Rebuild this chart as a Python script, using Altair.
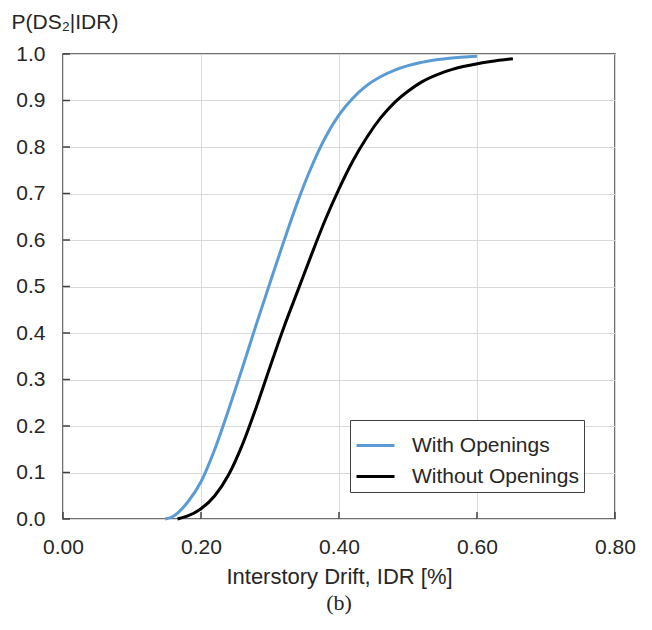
import altair as alt
import pandas as pd

with_x = [0.148, 0.160, 0.180, 0.200, 0.220, 0.240, 0.260, 0.280, 0.300, 0.320, 0.340, 0.360, 0.380, 0.400, 0.420, 0.440, 0.460, 0.480, 0.500, 0.530, 0.560, 0.600]
with_y = [0.000, 0.006, 0.035, 0.080, 0.150, 0.235, 0.325, 0.418, 0.508, 0.597, 0.682, 0.757, 0.820, 0.869, 0.905, 0.932, 0.951, 0.965, 0.975, 0.985, 0.991, 0.995]

without_x = [0.166, 0.180, 0.200, 0.220, 0.240, 0.260, 0.280, 0.300, 0.320, 0.340, 0.360, 0.380, 0.400, 0.420, 0.440, 0.460, 0.480, 0.500, 0.520, 0.550, 0.580, 0.620, 0.652]
without_y = [0.000, 0.006, 0.022, 0.050, 0.095, 0.160, 0.240, 0.327, 0.412, 0.490, 0.568, 0.643, 0.710, 0.770, 0.820, 0.862, 0.895, 0.920, 0.940, 0.960, 0.973, 0.984, 0.990]

series_names = ["With Openings", "Without Openings"]
series_colors = ["#5B9BD5", "#000000"]

x_ticks = [0.0, 0.2, 0.4, 0.6, 0.8]
y_ticks = [0.0, 0.1, 0.2, 0.3, 0.4, 0.5, 0.6, 0.7, 0.8, 0.9, 1.0]

rows = []
for i, (x, y) in enumerate(zip(with_x, with_y)):
    rows.append({"series": series_names[0], "idr": x, "p": y, "order": i})
for i, (x, y) in enumerate(zip(without_x, without_y)):
    rows.append({"series": series_names[1], "idr": x, "p": y, "order": i})
df = pd.DataFrame(rows)

W, H = 552, 465
FONT = "Liberation Sans"
TXT = "#262626"

xscale = alt.Scale(domain=[0, 0.8], nice=False)
yscale = alt.Scale(domain=[0, 1], nice=False)

lines = alt.Chart(df).mark_line(strokeWidth=3, interpolate="monotone").encode(
    x=alt.X("idr:Q", scale=xscale,
            axis=alt.Axis(values=x_ticks, format=".2f", title="Interstory Drift, IDR [%]",
                          grid=True, ticks=False, domain=False, labelPadding=17,
                          labelFlush=False, titlePadding=9, titleFontSize=22)),
    y=alt.Y("p:Q", scale=yscale,
            axis=alt.Axis(values=y_ticks, format=".1f", title="P(DS₂|IDR)",
                          grid=True, ticks=False, domain=False, labelPadding=18,
                          labelFlush=False,
                          titleAngle=0, titleAlign="left", titleBaseline="alphabetic",
                          titleX=-52, titleY=-26)),
    color=alt.Color("series:N", scale=alt.Scale(domain=series_names, range=series_colors),
                    legend=alt.Legend(title=None, orient="none", legendX=287, legendY=366,
                                      symbolType="stroke", symbolSize=1444, symbolStrokeWidth=3,
                                      labelFontSize=21, labelFont=FONT, labelColor=TXT,
                                      labelOffset=16, rowPadding=-5, padding=5,
                                      strokeColor="#404040", fillColor="white",
                                      labelLimit=400)),
    order="order:Q",
)

ytick_df = pd.DataFrame({"v": y_ticks})
xtick_df = pd.DataFrame({"v": x_ticks})

ytick_marks = alt.Chart(ytick_df).mark_rule(color="#404040", strokeWidth=1.5).encode(
    y=alt.Y("v:Q", scale=yscale), x=alt.value(0), x2=alt.value(7))
xtick_marks = alt.Chart(xtick_df).mark_rule(color="#404040", strokeWidth=1.5).encode(
    x=alt.X("v:Q", scale=xscale), y=alt.value(H), y2=alt.value(H - 7))

chart = alt.layer(ytick_marks, xtick_marks, lines).properties(
    width=W, height=H,
    background="white",
    title=alt.TitleParams(text="(b)", orient="bottom", font="Liberation Serif", fontSize=22,
                          fontWeight="normal", color=TXT, offset=6),
    autosize=alt.AutoSizeParams(type="none"),
    padding={"left": 63, "top": 54, "right": 37, "bottom": 111},
).configure_view(
    stroke="#404040", strokeWidth=1.5
).configure_axis(
    gridColor="#d9d9d9", gridWidth=1, labelFont=FONT, titleFont=FONT,
    labelFontSize=21, titleFontSize=21, titleFontWeight="normal",
    labelColor=TXT, titleColor=TXT
)

chart.save("out.html", embed_options={"renderer": "svg", "actions": False})
